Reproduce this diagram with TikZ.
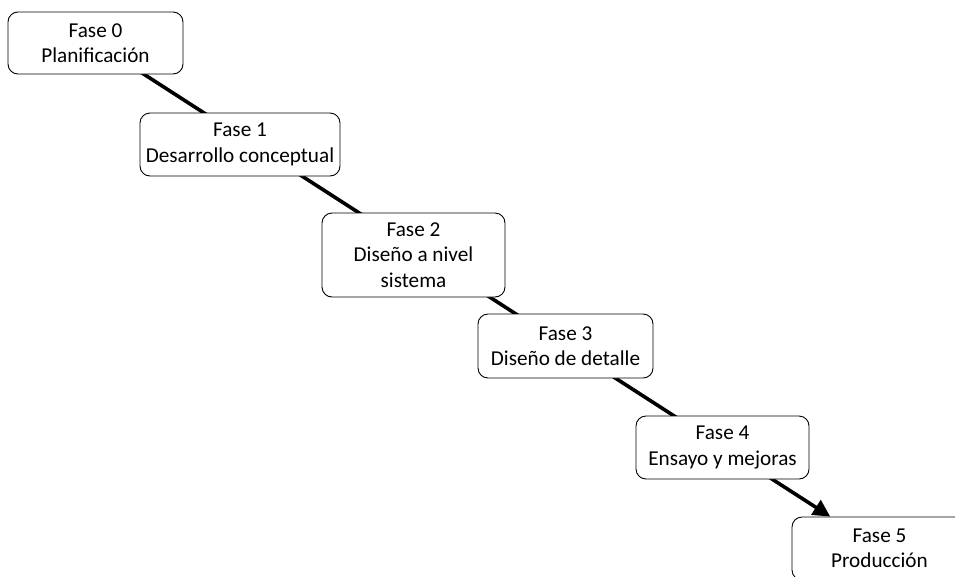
\documentclass[tikz,border=0pt]{standalone}
\usepackage{fontspec}
\setmainfont{Carlito}
\usetikzlibrary{arrows.meta,backgrounds}
\begin{document}
\begin{tikzpicture}[x=1pt,y=-1pt,
  fase/.style={draw=black, line width=0.9pt, fill=white, rounded corners=10pt,
    align=center, inner sep=0pt, font=\fontsize{21.2}{25.5}\selectfont},
  flow/.style={line width=3.6pt, -{Triangle[length=17pt,width=17pt]}}]
\useasboundingbox (0,0) rectangle (955,576);
\clip (0,0) rectangle (955,576);
% phases, top left to bottom right
\node[fase, minimum width=175pt, minimum height=62pt] (f0) at (95.5,43)    {Fase 0\\Planificación};
\node[fase, minimum width=200pt, minimum height=63pt] (f1) at (240,144.5)  {Fase 1\\Desarrollo conceptual};
\node[fase, minimum width=183pt, minimum height=84pt] (f2) at (413.5,255)  {Fase 2\\Diseño a nivel\\sistema};
\node[fase, minimum width=175pt, minimum height=64pt] (f3) at (565.5,346)  {Fase 3\\Diseño de detalle};
\node[fase, minimum width=173pt, minimum height=63pt] (f4) at (722.5,447.5){Fase 4\\Ensayo y mejoras};
\node[fase, minimum width=175pt, minimum height=63pt] (f5) at (879.5,548.5){Fase 5\\Producción};
% one straight flow line running behind the boxes
\begin{scope}[on background layer]
  \draw[flow] (f0.center) -- (f5);
\end{scope}
\end{tikzpicture}
\end{document}
